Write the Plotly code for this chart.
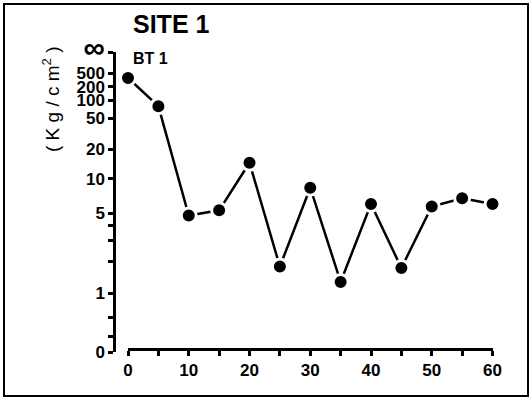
import numpy as np
import plotly.graph_objects as go

# Cone resistance profile, site 1, borehole BT 1
depth = [0, 5, 10, 15, 20, 25, 30, 35, 40, 45, 50, 55, 60]
strength = [350, 78, 4.8, 5.3, 14.3, 1.8, 8.3, 1.3, 6.0, 1.75, 5.7, 6.7, 6.0]

y_labelled = [0, 1, 5, 10, 20, 50, 100, 200, 500]
y_minor = [0.2, 0.5, 2, 3, 4]
x_ticks = list(range(0, 61, 5))
x_labelled = list(range(0, 61, 10))

# Compressed strength scale: 0 at the bottom, approaching infinity at the top
A, P = 1.4, 0.39
AXIS_TOP = 300 / 310  # where the axis is cut and marked with infinity


def scale(v):
    v = np.asarray(v, dtype=float)
    return 1 - (1 + v / A) ** (-P)


W, H = 531, 399
FONT = "Liberation Sans, Arial, sans-serif"

ytickvals = list(scale(y_labelled)) + list(scale(y_minor)) + [AXIS_TOP]
yticktext = [str(v) for v in y_labelled] + [" "] * len(y_minor) + [
    "<span style='font-size:30px'>∞</span>"
]

xticktext = [str(v) if v in x_labelled else " " for v in x_ticks]

fig = go.Figure()
fig.add_trace(
    go.Scatter(
        x=depth,
        y=scale(strength),
        mode="lines+markers",
        line=dict(color="black", width=2.5),
        marker=dict(size=15, color="black", line=dict(color="white", width=3)),
        showlegend=False,
        cliponaxis=False,
    )
)

fig.update_layout(
    width=W,
    height=H,
    autosize=False,
    margin=dict(l=0, r=0, t=0, b=0, pad=0, autoexpand=False),
    paper_bgcolor="white",
    plot_bgcolor="white",
    font=dict(family=FONT, color="black"),
    xaxis=dict(
        domain=[128 / W, 492.5 / W],
        range=[0, 60],
        anchor="free",
        position=1 - 349 / H,
        automargin=False,
        tickmode="array",
        tickvals=x_ticks,
        ticktext=xticktext,
        ticks="outside",
        ticklen=5,
        tickwidth=2.5,
        tickcolor="black",
        showline=True,
        linecolor="black",
        linewidth=2.5,
        showgrid=False,
        zeroline=False,
        tickfont=dict(size=17, family=FONT, weight="bold"),
    ),
    yaxis=dict(
        domain=[1 - 352 / H, 1 - 52 / H],
        range=[0, AXIS_TOP],
        anchor="free",
        position=114 / W,
        automargin=False,
        tickmode="array",
        tickvals=ytickvals,
        ticktext=yticktext,
        ticks="outside",
        ticklen=5,
        tickwidth=2.5,
        tickcolor="black",
        showline=True,
        linecolor="black",
        linewidth=2.5,
        showgrid=False,
        zeroline=False,
        tickfont=dict(size=17, family=FONT, weight="bold"),
    ),
    shapes=[
        dict(
            type="rect",
            xref="paper",
            yref="paper",
            x0=4 / W,
            x1=528 / W,
            y0=1 - 396 / H,
            y1=1 - 4 / H,
            line=dict(color="black", width=2),
        )
    ],
    annotations=[
        dict(
            text="<b>SITE 1</b>",
            xref="paper",
            yref="paper",
            x=131 / W,
            y=1 - 24 / H,
            xanchor="left",
            yanchor="middle",
            showarrow=False,
            font=dict(size=25, family=FONT),
        ),
        dict(
            text="<b>BT 1</b>",
            xref="paper",
            yref="paper",
            x=131 / W,
            y=1 - 58.5 / H,
            xanchor="left",
            yanchor="middle",
            showarrow=False,
            font=dict(size=16, family=FONT),
        ),
        dict(
            text="(\u00a0K\u00a0g\u00a0/\u00a0c\u00a0m<sup>2</sup>\u00a0)",
            xref="paper",
            yref="paper",
            x=51 / W,
            y=1 - 99 / H,
            xanchor="center",
            yanchor="middle",
            textangle=-90,
            showarrow=False,
            font=dict(size=19, family=FONT),
        ),
    ],
)

fig.write_html(
    "out.html",
    post_script="document.body.style.margin='0';document.body.style.overflow='hidden';",
)
